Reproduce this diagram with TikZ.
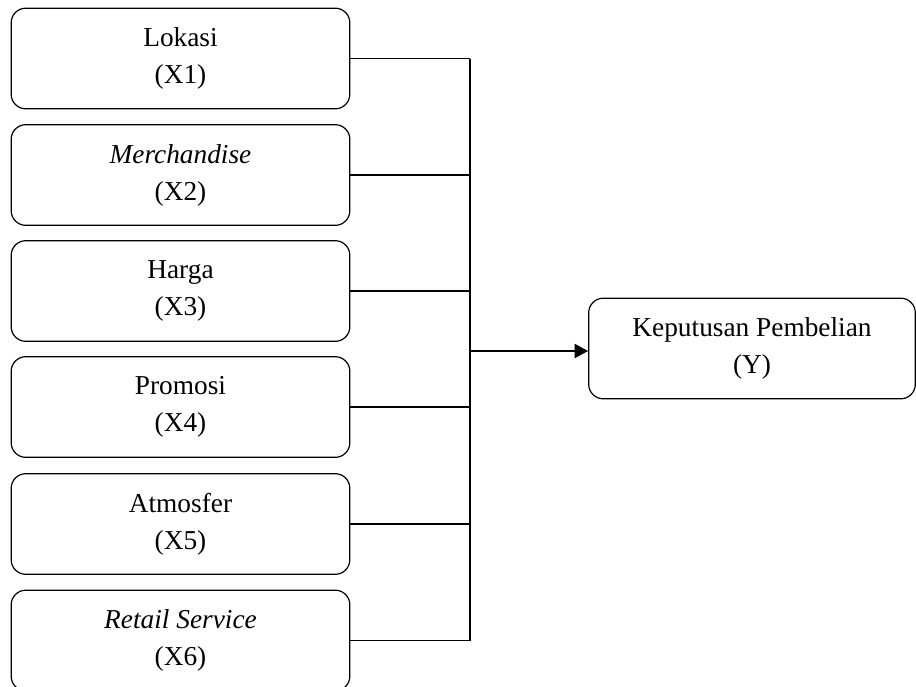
\documentclass[tikz,border=0pt]{standalone}
\usepackage{fontspec}
\setmainfont{Liberation Serif}
\usetikzlibrary{arrows.meta}
\begin{document}
\begin{tikzpicture}[x=0.75pt,y=-0.75pt,
  box/.style={draw, line width=0.9pt, rounded corners=11pt, minimum width=254pt, minimum height=75.5pt, align=center, inner sep=0pt,
    font=\fontsize{20.5pt}{27.75pt}\selectfont},
  conn/.style={line width=1.3pt}]
\useasboundingbox (0,0) rectangle (916,686);
\node[box] (b1) at (180.5,58.5) {Lokasi\\(X1)};
\node[box] (b2) at (180.5,175) {\textit{Merchandise}\\(X2)};
\node[box] (b3) at (180.5,291) {Harga\\(X3)};
\node[box] (b4) at (180.5,407) {Promosi\\(X4)};
\node[box] (b5) at (180.5,524) {Atmosfer\\(X5)};
\node[box] (b6) at (180.5,640.5) {\textit{Retail Service}\\(X6)};
\node[box, minimum width=245pt] (y) at (752,348.5) {Keputusan Pembelian\\(Y)};
\coordinate (j) at (470,351);
\foreach \i in {1,...,6} {
  \draw[conn] (b\i.east) -- (b\i.east -| j);
}
\draw[conn] (b1.east -| j) -- (b6.east -| j);
\draw[conn, -{Triangle[length=10pt,width=10.5pt]}] (j) -- (j -| y.west);
\end{tikzpicture}
\end{document}
